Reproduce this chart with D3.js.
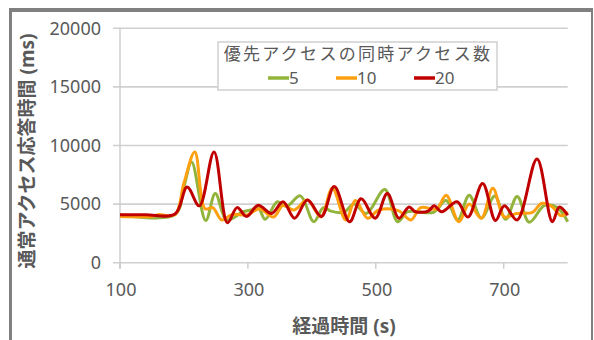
<!DOCTYPE html>
<html>
<head>
<meta charset="utf-8">
<script src="https://cdn.jsdelivr.net/npm/d3@7"></script>
<style>
  html, body { margin: 0; padding: 0; background: #fff; }
  svg { display: block; }
  text { font-family: "Noto Sans", "Noto Sans CJK JP", sans-serif; fill: #595959; }
</style>
</head>
<body>
<div id="chart"></div>
<script>
// response time of normal access vs elapsed time, per priority-access concurrency
const seriesNames = ["5", "10", "20"];
const seriesColors = ["#92b43c", "#ffa010", "#c00000"];
const xTicks = [100, 300, 500, 700];
const yTicks = [0, 5000, 10000, 15000, 20000];

// [elapsed s, ms]
const green5 = [[100,4100],[186,4100],[200,6500],[212,8600],[234,3600],[249,5900],[266,3650],[280,3900],[290,4300],[305,4500],[316,4700],[327,3700],[346,5200],[360,4800],[382,5700],[403,3500],[418,4700],[430,4400],[450,4300],[466,5000],[485,4200],[514,6250],[534,3500],[550,4350],[590,4300],[610,5300],[628,3650],[646,5750],[665,3800],[686,5700],[703,3700],[721,5650],[740,3450],[764,4900],[784,4700],[800,3500]];
const orange10 = [[100,3950],[150,3950],[160,4100],[186,4100],[200,6800],[217,9450],[233,4600],[245,4700],[259,3650],[275,4100],[300,4100],[318,4600],[340,3900],[355,4900],[372,4500],[393,5350],[414,3900],[432,6350],[453,3650],[468,5300],[487,3800],[505,4500],[535,4450],[555,3650],[570,4700],[595,4600],[610,5750],[630,3500],[646,5000],[665,3800],[683,6350],[701,3900],[720,4200],[745,4300],[759,5050],[775,4800],[790,4000],[800,4350]];
const red20 = [[100,4100],[140,4100],[186,4150],[205,6450],[224,4850],[247,9450],[268,3400],[283,4700],[298,3950],[316,4900],[337,4200],[355,5200],[373,3800],[393,5350],[415,3950],[435,6500],[459,3500],[477,5450],[499,3800],[518,5900],[536,3800],[552,4750],[562,4350],[582,4400],[591,4850],[603,4350],[627,5200],[644,3900],[667,6750],[687,3600],[701,4850],[721,3650],[752,8850],[776,3500],[787,4750],[800,4050]];
const seriesData = [green5, orange10, red20];

const W = 594, H = 340;
const svg = d3.select("#chart").append("svg").attr("width", W).attr("height", H);

// frame around the picture
svg.append("rect").attr("x", 9).attr("y", 8).attr("width", 584).attr("height", 4).attr("fill", "#808080");
svg.append("rect").attr("x", 9).attr("y", 8).attr("width", 3).attr("height", H).attr("fill", "#808080");
svg.append("rect").attr("x", 591).attr("y", 8).attr("width", 2).attr("height", H).attr("fill", "#808080");

const x = d3.scaleLinear().domain([100, 800]).range([120, 567.7]);
const y = d3.scaleLinear().domain([0, 20000]).range([262.7, 28.3]);

// gridlines (extend a bit left as outer ticks)
svg.append("g").selectAll("line").data(yTicks).join("line")
  .attr("x1", 113).attr("x2", x(800))
  .attr("y1", d => y(d)).attr("y2", d => y(d))
  .attr("stroke", "#d0d0d0").attr("stroke-width", 1.6);

// y axis line
svg.append("line").attr("x1", x(100)).attr("x2", x(100))
  .attr("y1", y(20000)).attr("y2", y(0) + 6)
  .attr("stroke", "#c8c8c8").attr("stroke-width", 1.3);

// x ticks
svg.append("g").selectAll("line").data(xTicks).join("line")
  .attr("x1", d => x(d)).attr("x2", d => x(d))
  .attr("y1", y(0)).attr("y2", y(0) + 6)
  .attr("stroke", "#c8c8c8").attr("stroke-width", 1.3);

// tick labels
svg.append("g").selectAll("text").data(yTicks).join("text")
  .attr("x", 101).attr("y", d => y(d)).attr("dy", "0.35em")
  .attr("text-anchor", "end").style("font-size", "18px")
  .text(d => d);

svg.append("g").selectAll("text").data(xTicks).join("text")
  .attr("x", d => x(d) + 1).attr("y", 290).attr("dy", "0.35em")
  .attr("text-anchor", "middle").style("font-size", "18px")
  .text(d => d);

// axis titles
svg.append("text").attr("x", 344).attr("y", 326).attr("dy", "0.35em")
  .attr("text-anchor", "middle").style("font-size", "19px").style("font-weight", "bold")
  .text("経過時間 (s)");

svg.append("text").attr("transform", "translate(27,151) rotate(-90)").attr("dy", "0.35em")
  .attr("text-anchor", "middle").style("font-size", "19px").style("font-weight", "bold")
  .text("通常アクセス応答時間 (ms)");

// lines
const line = d3.line()
  .x(d => x(d[0])).y(d => y(d[1]))
  .curve(d3.curveCatmullRom.alpha(0.5));

svg.append("g").selectAll("path").data(seriesData).join("path")
  .attr("d", line)
  .attr("fill", "none")
  .attr("stroke", (d, i) => seriesColors[i])
  .attr("stroke-width", 3)
  .attr("stroke-linejoin", "round");

// legend
const lg = svg.append("g");
lg.append("rect").attr("x", 218).attr("y", 42).attr("width", 279).attr("height", 48)
  .attr("fill", "#fff").attr("stroke", "#d0d0d0").attr("stroke-width", 1.5);
lg.append("text").attr("x", 358).attr("y", 54).attr("dy", "0.35em")
  .attr("text-anchor", "middle").style("font-size", "17px").style("letter-spacing", "2.3px")
  .text("優先アクセスの同時アクセス数");

const legendX = [268, 336, 414];
seriesNames.forEach((name, i) => {
  lg.append("line").attr("x1", legendX[i]).attr("x2", legendX[i] + 21)
    .attr("y1", 78).attr("y2", 78)
    .attr("stroke", seriesColors[i]).attr("stroke-width", 3.5);
  lg.append("text").attr("x", legendX[i] + 21).attr("y", 78).attr("dy", "0.35em")
    .style("font-size", "17px").text(name);
});
</script>
</body>
</html>
